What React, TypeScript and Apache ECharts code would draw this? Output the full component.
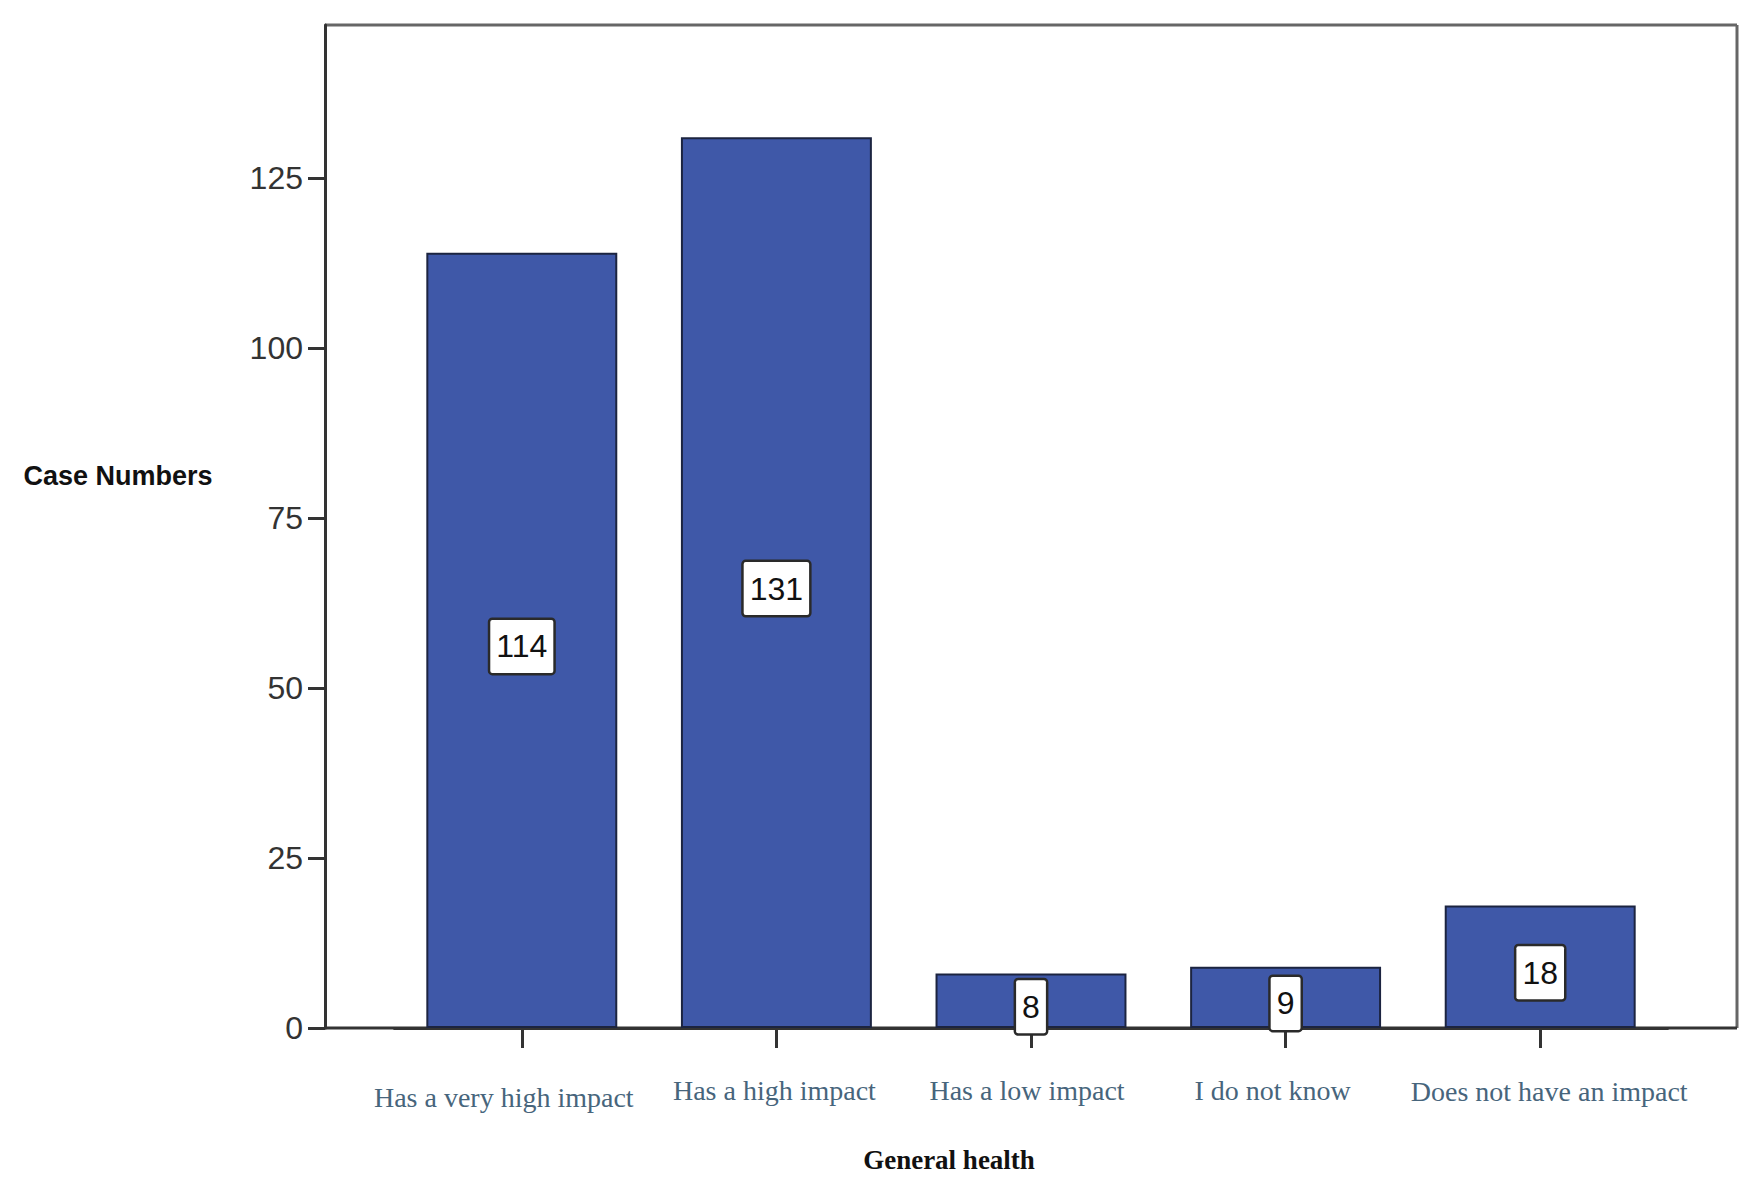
import React, { useEffect, useRef } from "react";
import * as echarts from "echarts";

const categories = [
  "Has a very high impact",
  "Has a high impact",
  "Has a low impact",
  "I do not know",
  "Does not have an impact",
];
const caseNumbers = [114, 131, 8, 9, 18];
const yTickValues = [0, 25, 50, 75, 100, 125];
const yAxisTitle = "Case Numbers";
const xAxisTitle = "General health";

// small per-label nudges seen in the reference (dx, dy in px)
const labelNudges = [
  [-18, 7],
  [-2, 0],
  [-4, -2],
  [-13, -6],
  [9, 1],
];

export default function App() {
  const ref = useRef<HTMLDivElement>(null);
  useEffect(() => {
    document.body.style.margin = "0";
    const chart = echarts.init(ref.current!, null, { renderer: "svg" });
    const frameL = 325, frameT = 25, frameR = 1737, frameB = 1028;
    const gridL = 394.5, gridR = 1667.5;
    const rich: Record<string, any> = {};
    labelNudges.forEach(([dx, dy], i) => {
      rich["c" + i] = {
        fontFamily: "Liberation Serif",
        fontSize: 28,
        color: "#47657c",
        padding: [Math.max(dy, 0) + 6, dx < 0 ? -2 * dx : 0, Math.max(-dy, 0), dx > 0 ? 2 * dx : 0],
      };
    });
    chart.setOption({
      animation: false,
      backgroundColor: "#ffffff",
      grid: {
        left: gridL,
        right: 1757 - gridR,
        top: frameT,
        bottom: 1192 - frameB,
        containLabel: false,
      },
      xAxis: {
        type: "category",
        data: categories,
        axisLine: { show: true, lineStyle: { color: "#333", width: 3 } },
        axisTick: { show: true, alignWithLabel: true, length: 20, lineStyle: { color: "#333", width: 3 } },
        axisLabel: {
          fontFamily: "Liberation Serif",
          fontSize: 28,
          color: "#47657c",
          margin: 42,
          interval: 0,
          formatter: (v: string, i: number) => `{c${i}|${v}}`,
          rich,
        },
        splitLine: { show: false },
      },
      yAxis: {
        type: "value",
        min: 0,
        max: 147.5,
        interval: 25,
        offset: gridL - frameL,
        axisLine: { show: true, lineStyle: { color: "#333", width: 3 } },
        axisTick: { show: true, length: 17, customValues: yTickValues, lineStyle: { color: "#333", width: 3 } },
        axisLabel: {
          customValues: yTickValues,
          fontFamily: "Liberation Sans",
          fontSize: 32,
          color: "#333",
          margin: 22,
        },
        splitLine: { show: false },
      },
      series: [
        {
          type: "bar",
          data: caseNumbers,
          barCategoryGap: "25%",
          itemStyle: { color: "#3f58a8", borderColor: "#1c2440", borderWidth: 2 },
          label: {
            show: true,
            position: "inside",
            offset: [0, 6],
            fontFamily: "Liberation Sans",
            fontSize: 32,
            color: "#111",
            backgroundColor: "#ffffff",
            borderColor: "#2a2a2a",
            borderWidth: 2.5,
            borderRadius: 2,
            padding: [12, 6, 9, 6],
          },
        },
      ],
      graphic: [
        {
          type: "line",
          shape: { x1: frameL, y1: frameT, x2: frameR, y2: frameT },
          style: { stroke: "#666", lineWidth: 3 },
          silent: true,
        },
        {
          type: "line",
          shape: { x1: frameR, y1: frameT, x2: frameR, y2: frameB },
          style: { stroke: "#666", lineWidth: 3 },
          silent: true,
        },
        {
          type: "line",
          shape: { x1: frameL, y1: frameB, x2: frameR, y2: frameB },
          style: { stroke: "#333", lineWidth: 3 },
          silent: true,
        },
        {
          type: "text",
          x: 118,
          y: 476,
          style: {
            text: yAxisTitle,
            fontFamily: "Liberation Sans",
            fontWeight: "bold",
            fontSize: 27,
            fill: "#111",
            align: "center",
            verticalAlign: "middle",
          },
        },
        {
          type: "text",
          x: 949,
          y: 1160,
          style: {
            text: xAxisTitle,
            fontFamily: "Liberation Serif",
            fontWeight: "bold",
            fontSize: 27,
            fill: "#111",
            align: "center",
            verticalAlign: "middle",
          },
        },
      ],
    });
    return () => chart.dispose();
  }, []);
  return <div ref={ref} style={{ width: 1757, height: 1192 }} />;
}
